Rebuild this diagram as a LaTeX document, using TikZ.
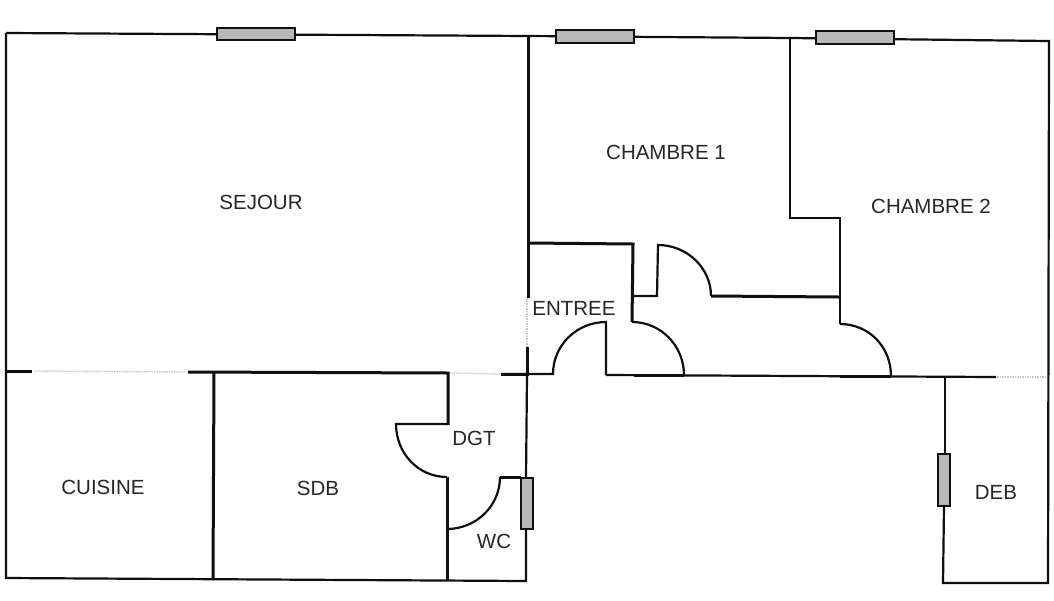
\documentclass[tikz,border=0pt]{standalone}
\usepackage{fontspec}
\setmainfont{Liberation Sans}
\definecolor{wallc}{gray}{0.06}
\tikzset{
  wall/.style={draw=wallc,line width=3pt,line cap=butt,line join=miter},
  thin wall/.style={draw=wallc,line width=2.2pt,line join=miter},
  faded/.style={draw=black!22,line width=1.4pt,dash pattern=on 1.5pt off 1pt},
  door/.style={draw=wallc,line width=2.2pt,line join=miter},
  win/.style={draw=wallc,fill=black!28,line width=2.4pt},
  room/.style={font=\fontsize{20.5}{24}\selectfont,text=black!85,inner sep=0pt},
}
\begin{document}
\begin{tikzpicture}[x=1pt,y=-1pt]
\useasboundingbox (0,0) rectangle (1054,600);
\fill[white] (0,0) rectangle (1054,600);
% outer walls
\draw[thin wall] (6,33) -- (528,36) -- (790,38) -- (1049,41) -- (1048,583) -- (943,583) -- (944,506);
\draw[thin wall] (6,33) -- (6,578) -- (526,581) -- (526,529);
% faded openings
\draw[faded] (34,371) -- (187,372);
\draw[faded] (449,373) -- (500,374);
\draw[faded] (997,377) -- (1047,377);
\draw[faded] (527,298) -- (527,347);
% sejour / chambre 1 wall
\draw[wall] (528,36) -- (528,298);
\draw[wall] (527,347) -- (527,376);
\draw[thin wall] (527,376) -- (526,478);
% horizontal at y 372
\draw[wall] (6,371) -- (32,371);
\draw[wall] (188,372) -- (448,373) -- (448,425);
\draw[wall] (214,372) -- (213,579);
\draw[wall] (447,477) -- (447,580);
% DGT door
\draw[door] (448,424) -- (396,424) .. controls (396,453) and (418,477) .. (447,477);
% WC door
\draw[door] (447,529) .. controls (476,529) and (500,506) .. (500,477);
\draw[wall] (500,477) -- (521,477);
% entree
\draw[wall] (528,243) -- (633,244) -- (632,322);
\draw[door] (501,374) -- (553,374) .. controls (553,345) and (577,322) .. (606,322) -- (606,375);
\draw[wall] (501,374) -- (527,374);
\draw[door] (632,322) .. controls (661,322) and (684,346) .. (684,375);
\draw[door] (632,296) -- (657,296) -- (658,245) .. controls (687,245) and (711,268) .. (711,296);
\draw[wall] (711,296) -- (839,297);
% chambre 2 wall
\draw[thin wall] (790,38) -- (790,218) -- (840,218) -- (840,324);
\draw[door] (840,324) .. controls (869,324) and (891,347) .. (891,376);
% long lower wall
\draw[door] (606,375) -- (996,377);
\draw[wall] (634,375.5) -- (684,375.5);
\draw[wall] (840,376.5) -- (891,376.5);
% deb wall
\draw[thin wall] (945,377) -- (945,454);
% windows
\draw[win] (217,28) rectangle (295,40);
\draw[win] (556,30) rectangle (634,43);
\draw[win] (816,31) rectangle (894,44);
\draw[win] (521,478) rectangle (533,529);
\draw[win] (938,454) rectangle (950,506);
% labels
\node[room] (sejour) at (261,202) {SEJOUR};
\node[room] (ch1) at (666,152) {CHAMBRE 1};
\node[room] (ch2) at (931,206) {CHAMBRE 2};
\node[room] (entree) at (574,308) {ENTREE};
\node[room] (dgt) at (474,438) {DGT};
\node[room] (cuisine) at (103,487) {CUISINE};
\node[room] (sdb) at (318,488) {SDB};
\node[room] (wc) at (494,541) {WC};
\node[room] (deb) at (996,492) {DEB};
\end{tikzpicture}
\end{document}
